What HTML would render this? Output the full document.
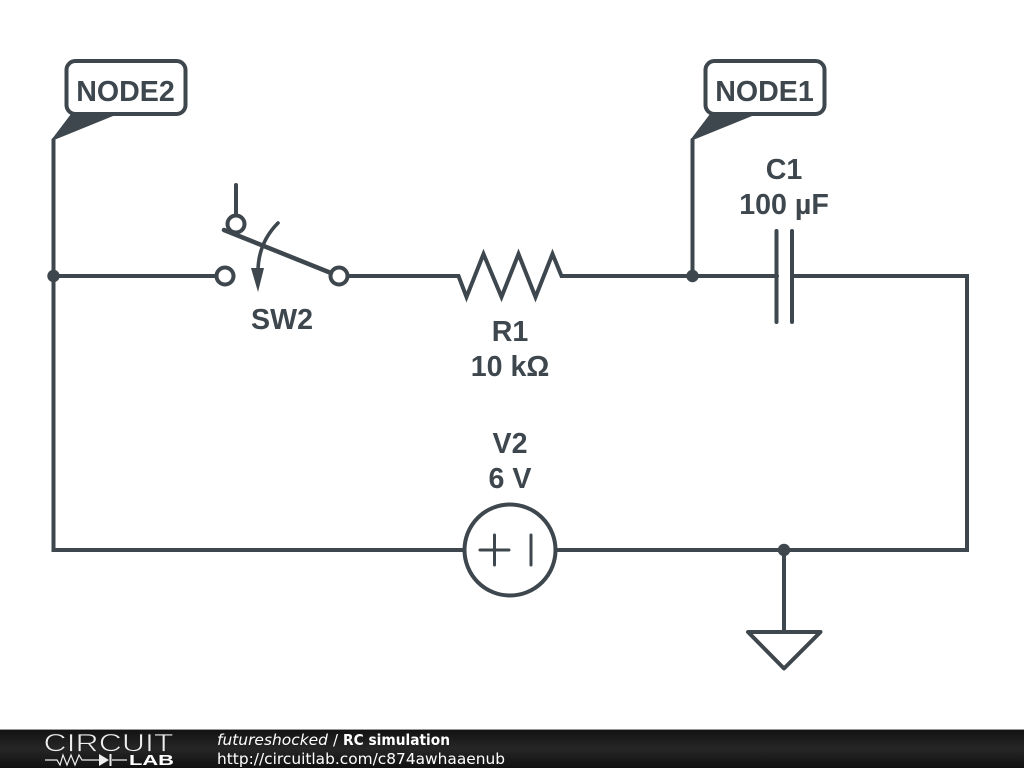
<!DOCTYPE html>
<html><head><meta charset="utf-8">
<style>
html,body{margin:0;padding:0;background:#fff;width:1024px;height:768px;overflow:hidden}
svg{display:block;position:absolute;left:0;top:0}
.l{font-family:"Liberation Sans",sans-serif;font-weight:bold;font-size:28.6px;fill:#3d474d;text-anchor:middle}
.f{font-family:"DejaVu Sans",sans-serif;font-size:15px;fill:#fff}
</style></head><body>
<svg width="1024" height="768" viewBox="0 0 1024 768">
<defs><linearGradient id="g" x1="0" y1="0" x2="0" y2="1"><stop offset="0" stop-color="#111"/><stop offset=".5" stop-color="#262626"/><stop offset="1" stop-color="#111"/></linearGradient></defs>
<g fill="none" stroke="#3d474d" stroke-width="4" stroke-linecap="round" stroke-linejoin="miter">
<path d="M53.500 276V140M53.500 276V550H464M53.500 276H216"/>
<path d="M348 276H458.500L466.500 297L483.500 254L501.500 297L518.500 254L535.500 297L552.500 254L561.500 276H692"/>
<path d="M692.500 276V140M692.500 276H777M776.500 231V322M792 231V322M792 276H967V550H556M784 550V632"/>
<circle cx="225" cy="276" r="8.500"/>
<circle cx="339" cy="276" r="8.500"/>
<circle cx="236" cy="224" r="8.500"/>
<path d="M236 185V215"/>
<path d="M224 230L331 273" stroke-width="4.500"/>
<path d="M278 223C265 236 258 252 258 272" stroke-width="3.600"/>
<circle cx="510" cy="550" r="45.500"/>
<path d="M480 550H509M494.500 535V565M531 535V565" stroke-width="3"/>
<path d="M748 632H820.500L784 668.500Z" stroke-linejoin="round"/>
<rect x="66.500" y="61" width="119" height="53" rx="9"/>
<rect x="705.500" y="61" width="119" height="53" rx="9"/>
</g>
<g fill="#3d474d">
<circle cx="53.500" cy="276" r="6.200"/>
<circle cx="692.500" cy="276" r="6.200"/>
<circle cx="784" cy="550" r="6.200"/>
<path d="M251 268L264 268L258 292Z"/>
<path d="M52 139L71 114H118L54 140Z"/>
<path d="M691 139L710 114H757L693 140Z"/>
</g>
<text class="l" x="125.500" y="101">NODE2</text>
<text class="l" x="764.500" y="101">NODE1</text>
<text class="l" x="784" y="179">C1</text>
<text class="l" x="784" y="214">100 µF</text>
<text class="l" x="282" y="329">SW2</text>
<text class="l" x="510" y="341">R1</text>
<text class="l" x="510" y="376">10 kΩ</text>
<text class="l" x="510" y="453">V2</text>
<text class="l" x="510" y="488">6 V</text>
<rect x="0" y="729" width="1024" height="39" fill="url(#g)"/>
<rect x="0" y="729" width="1024" height="1" fill="#999"/>
<text x="43.500" y="751.500" font-family="Liberation Sans,sans-serif" font-size="25" fill="#eee" stroke="#1e1e1e" stroke-width=".7" textLength="130" lengthAdjust="spacingAndGlyphs">CIRCUIT</text>
<path d="M45 760H57L60 765L63 755L67 765L71 755L75 765L79 755L82 760H99M112 760H127" fill="none" stroke="#eee" stroke-width="1.200"/>
<path d="M99 754V766L109 760Z M109.500 754H111.500V766H109.500Z" fill="#eee"/>
<text x="129" y="765" font-family="Liberation Sans,sans-serif" font-weight="bold" font-size="15" fill="#fff" textLength="45" lengthAdjust="spacingAndGlyphs">LAB</text>
<text class="f" x="217" y="745" font-style="italic" textLength="111" lengthAdjust="spacingAndGlyphs">futureshocked</text>
<text class="f" x="333" y="745">/</text>
<text class="f" x="343" y="745" font-weight="bold" textLength="107" lengthAdjust="spacingAndGlyphs">RC simulation</text>
<text class="f" x="217" y="764" textLength="288" lengthAdjust="spacingAndGlyphs">http://circuitlab.com/c874awhaaenub</text>
</svg>
</body></html>
